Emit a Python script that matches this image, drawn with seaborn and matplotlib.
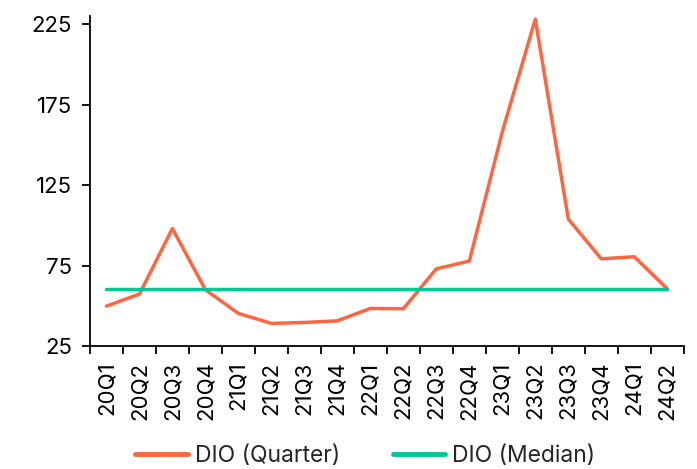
import matplotlib
matplotlib.use("Agg")
import matplotlib.pyplot as plt
import seaborn as sns
import pandas as pd
import numpy as np

quarters = ["20Q1", "20Q2", "20Q3", "20Q4", "21Q1", "21Q2", "21Q3", "21Q4", "22Q1",
            "22Q2", "22Q3", "22Q4", "23Q1", "23Q2", "23Q3", "23Q4", "24Q1", "24Q2"]
dio_quarter = [49.8, 57.3, 98.0, 60.0, 45.3, 39.1, 39.7, 40.7, 48.4,
               48.2, 73.0, 77.8, 158.1, 228.0, 103.9, 79.2, 80.5, 60.6]
dio_median = [60.6] * len(quarters)
y_ticks = [25, 75, 125, 175, 225]

sns.set_theme(style="ticks")
plt.rcParams["font.family"] = ["Inter", "DejaVu Sans"]

df = pd.DataFrame({"quarter": quarters,
                   "DIO (Quarter)": dio_quarter,
                   "DIO (Median)": dio_median})
long = df.melt(id_vars="quarter", var_name="series", value_name="value")
long["pos"] = long["quarter"].map({q: i for i, q in enumerate(quarters)})

fig = plt.figure(figsize=(6.97, 4.69), dpi=100)
ax = fig.add_axes([0.129, 0.262, 0.852, 0.704])

palette = {"DIO (Quarter)": "#FF6640", "DIO (Median)": "#00C896"}
sns.lineplot(data=long, x="pos", y="value", hue="series", palette=palette,
             hue_order=["DIO (Quarter)", "DIO (Median)"], linewidth=2.5, ax=ax,
             legend=True)

fs = 16
ax.set_xlim(-0.5, len(quarters) - 0.5)
ax.set_ylim(25, 230)
ax.set_yticks(y_ticks)
ax.set_xticks(np.arange(len(quarters)))
ax.set_xticklabels(quarters, rotation=90)
ax.set_xticks(np.arange(-0.5, len(quarters)), minor=True)
ax.tick_params(axis="x", which="major", length=0, pad=11, labelsize=fs, colors="black")
ax.tick_params(axis="x", which="minor", length=6, width=1.3, color="black")
ax.tick_params(axis="y", length=6, width=1.3, labelsize=fs, colors="black", pad=7)
ax.set_xlabel("")
ax.set_ylabel("")
for s in ["top", "right"]:
    ax.spines[s].set_visible(False)
for s in ["left", "bottom"]:
    ax.spines[s].set_color("black")
    ax.spines[s].set_linewidth(1.3)

leg = ax.legend(loc="center", bbox_to_anchor=(0.524, 0.028), bbox_transform=fig.transFigure,
                ncol=2, frameon=False, fontsize=16.5, handlelength=2.3,
                columnspacing=2.3, handletextpad=0.3)
for line in leg.get_lines():
    line.set_linewidth(3.5)

fig.savefig("out.png", dpi=100)
